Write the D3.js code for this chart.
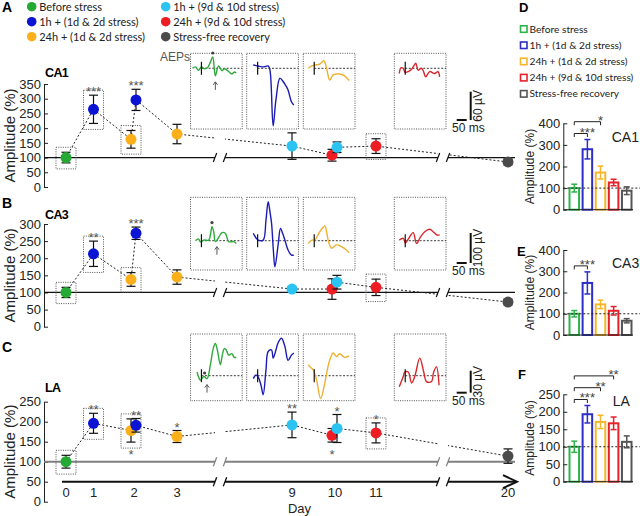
<!DOCTYPE html>
<html><head><meta charset="utf-8">
<script src="https://cdn.jsdelivr.net/npm/d3@7"></script>
<style>body{margin:0;background:#fff}svg{display:block}</style>
</head><body><svg id="c" width="640" height="516"></svg>
<script>
// ================= DATA =================
const groupKeys = ["pre","h1a","h24a","h1b","h24b","rec"];
const groupLabels = ["Before stress","1h + (1d & 2d stress)","24h + (1d & 2d stress)","1h + (9d & 10d stress)","24h + (9d & 10d stress)","Stress-free recovery"];
const pointColors = {pre:"#24a935",h1a:"#0a14d2",h24a:"#fbb01b",h1b:"#2bc4f2",h24b:"#ee1d23",rec:"#4b4b4b"};
const waveColors = {pre:"#2fa83c",h1a:"#1b1bb5",h24a:"#f0b030",h24b:"#d9262b"};
const barColors = {pre:"#2db34a",h1a:"#2d2dc8",h24a:"#f9b52a",h24b:"#e52129",rec:"#555555"};

const days = [0,1,2,3,9,10,11,20];
const dayLabels = ["0","1","2","3","9","10","11","20"];

// chronological sequence of measurements
const seqDays   = [0,1,2,2,3,9,10,10,11,20];
const seqGroups = ["pre","h1a","h24a","h1a","h24a","h1b","h24b","h1b","h24b","rec"];

const ca1Mean = [100,264,162,296,180,139,108,135,139,85];
const ca1Err  = [18,48,30,36,33,45,20,18,25,10];
const ca3Mean = [100,213,138,273,145,110,110,130,115,72];
const ca3Err  = [15,37,20,18,21,6,30,20,24,8];
const laMean  = [100,196,178,191,163,192,166,183,172,114];
const laErr   = [16,25,29,17,15,32,17,35,25,18];

const ca1Stars = [{i:1,t:"***",pos:"above"},{i:3,t:"***",pos:"above"}];
const ca3Stars = [{i:1,t:"**",pos:"above"},{i:3,t:"***",pos:"above"}];
const laStars  = [{i:1,t:"**",pos:"above"},{i:3,t:"**",pos:"above"},{i:2,t:"*",pos:"below"},
                  {i:4,t:"*",pos:"above"},{i:5,t:"**",pos:"above"},{i:7,t:"*",pos:"above"},
                  {i:6,t:"*",pos:"below"},{i:8,t:"*",pos:"above"}];
const ca1Boxed = [0,1,2,8];
const ca3Boxed = [0,1,2,8];
const laBoxed  = [0,1,2,8];

// AEP traces: [ms, µV]
const waveGroups = ["pre","h1a","h24a","h24b"];
const ca1Waves = {
 pre:[[10,0],[25,3],[40,-4],[55,3],[70,-1],[85,1],[100,13],[112,24],[125,-16],[141,5],[158,-5],[170,-1],[184,-4],[195,-8],[208,-12],[220,-8],[230,-10]],
 h1a:[[33,7],[57,5],[82,3],[108,5],[117,-4],[133,-122],[147,-67],[167,-21],[183,-28],[197,-37],[208,-46],[225,-71],[237,-78]],
 h24a:[[25,0],[43,5],[58,7],[83,9],[103,16],[113,7],[123,-12],[133,-25],[150,-14],[167,-12],[183,-12],[208,-16],[230,-26]],
 h24b:[[25,-11],[33,1],[45,0],[53,-8],[70,-7],[87,-2],[98,5],[108,11],[120,-4],[137,0],[148,-8],[158,-18],[178,-7],[203,-11],[220,-7],[228,-18]]
};
const ca3Waves = {
 pre:[[25,0],[40,6],[50,-4],[67,2],[92,2],[100,19],[108,47],[117,29],[125,-3],[140,9],[158,27],[175,25],[192,-3],[217,-3],[230,-9]],
 h1a:[[33,25],[47,9],[58,2],[83,2],[97,69],[108,130],[117,96],[125,58],[134,-31],[142,-87],[158,-14],[170,41],[182,22],[192,2],[208,-31],[225,-48],[237,-48]],
 h24a:[[25,-9],[43,2],[58,2],[83,30],[108,49],[118,26],[125,2],[142,-25],[167,-14],[192,-20],[217,-31],[230,-40]],
 h24b:[[25,2],[45,8],[56,-8],[70,5],[95,27],[112,-9],[132,13],[153,30],[178,38],[195,30],[215,19],[228,19]]
};
const laWaves = {
 pre:[[33,5],[50,-6],[67,-1],[83,-4],[100,15],[115,38],[125,44],[135,35],[150,15],[160,28],[170,37],[180,35],[192,28],[208,30],[220,25],[230,25]],
 h1a:[[33,-4],[47,1],[58,-2],[72,-13],[83,-26],[97,8],[108,33],[125,35],[133,24],[147,35],[158,45],[175,51],[192,40],[208,21],[225,28],[237,31]],
 h24a:[[25,15],[38,11],[50,8],[67,-6],[87,-31],[108,-10],[123,11],[133,21],[150,31],[167,26],[183,30],[208,25],[230,27]],
 h24b:[[25,-15],[45,-1],[53,5],[70,5],[87,-10],[103,-1],[128,24],[148,5],[162,-8],[187,-8],[198,5],[212,12],[225,-13]]
};
const stimMs = 55;

// bar charts
const barGroups = ["pre","h1a","h24a","h24b","rec"];
const barLegendLabels = ["Before stress","1h + (1d & 2d stress)","24h + (1d & 2d stress)","24h + (9d & 10d stress)","Stress-free recovery"];
const ca1Bar = [100,280,172,126,88];
const ca1BarErr = [18,45,30,15,18];
const ca3Bar = [100,245,144,114,67];
const ca3BarErr = [15,52,20,20,10];
const laBar = [100,193,171,167,114];
const laBarErr = [16,25,19,18,17];
const ca1Comp = [[0,1,"***"],[0,2,"*"]];
const ca3Comp = [[0,1,"***"]];
const laComp = [[0,1,"***"],[0,2,"**"],[0,3,"**"]];

// ================= DRAW =================
const svg = d3.select("#c");
const SANS = "'Liberation Sans', Arial, sans-serif";
const HUM = "Lato, 'Open Sans', sans-serif";

const dayScale = d3.scaleLinear().domain(days).range([66,93.5,134,177,292,335,376,508]);
const breaks = [[215,225],[438,448]];

// clip excluding breaks
const defs = svg.append("defs");
const cp = defs.append("clipPath").attr("id","brk");
[[0,215],[225,438],[448,640]].forEach(([a,b])=>cp.append("rect").attr("x",a).attr("y",0).attr("width",b-a).attr("height",516));

function xPos(i){
  const d = seqDays[i];
  const same = seqDays.filter(v=>v===d).length>1;
  let off = 0;
  if(same) off = seqGroups[i].startsWith("h24") ? -3 : 2;
  return dayScale(d)+off;
}

// ----- top legend -----
const leg = svg.append("g");
groupKeys.forEach((k,i)=>{
  const col = i<3?0:1, row = i%3;
  const cx = col===0?31.7:165.7, cy = 6.7+row*15;
  leg.append("circle").attr("cx",cx).attr("cy",cy).attr("r",4.8).attr("fill",pointColors[k]);
  leg.append("text").attr("x",cx+7.5).attr("y",cy+3.8).attr("font-family",HUM).attr("font-size",11)
     .attr("fill","#222").text(groupLabels[i]);
});

const panels = [
 {letter:"A",letterY:12,name:"CA1",nameY:77,mean:ca1Mean,err:ca1Err,stars:ca1Stars,boxed:ca1Boxed,waves:ca1Waves,
  yMax:350,y0:187,yTop:84,inTop:53.3,inBot:129,base:68.3,uv:60,uvPx:28.3,sbY:120,aep:true},
 {letter:"B",letterY:208,name:"CA3",nameY:219,mean:ca3Mean,err:ca3Err,stars:ca3Stars,boxed:ca3Boxed,waves:ca3Waves,
  yMax:300,y0:326.7,yTop:224,inTop:197.3,inBot:270,base:240.7,uv:100,uvPx:30,sbY:263},
 {letter:"C",letterY:352,name:"LA",nameY:392,mean:laMean,err:laErr,stars:laStars,boxed:laBoxed,waves:laWaves,
  yMax:250,y0:501.7,yTop:401.7,inTop:334,inBot:400.7,base:375.7,uv:30,uvPx:22,sbY:392.7,dayAxis:true}
];

const insetLefts = [190.5,246.7,303.3,394.3];
const insetW = 51.7;

panels.forEach(p=>{
  const g = svg.append("g");
  const y = d3.scaleLinear().domain([0,p.yMax]).range([p.y0,p.yTop]);
  g.append("text").attr("x",2).attr("y",p.letterY).attr("font-family",SANS).attr("font-weight","bold")
   .attr("font-size",14).text(p.letter);
  g.append("text").attr("x",45).attr("y",p.nameY).attr("font-family",SANS).attr("font-weight","bold")
   .attr("font-size",12.5).attr("letter-spacing",-0.6).text(p.name);
  // axis
  const ax = g.append("g").attr("transform","translate(44,0)")
    .call(d3.axisLeft(y).tickValues(d3.range(0,p.yMax+1,50)).tickSize(-4).tickSizeOuter(0).tickPadding(3));
  ax.selectAll("text").attr("font-size",13).attr("font-family",SANS).attr("fill","#222");
  ax.selectAll("line,path").attr("stroke","#222");
  g.append("text").attr("transform",`translate(15,${(p.y0+p.yTop)/2}) rotate(-90)`).attr("text-anchor","middle")
   .attr("font-family",SANS).attr("font-size",15).attr("fill","#222").text("Amplitude (%)");

  // 100% reference line
  const y100 = y(100);
  const lineCol = p.dayAxis ? "#808080" : "#111";
  const lineW = p.dayAxis ? 2 : 1.2;
  g.append("line").attr("x1",44).attr("x2",515).attr("y1",y100).attr("y2",y100)
   .attr("stroke",lineCol).attr("stroke-width",lineW).attr("clip-path","url(#brk)");
  function slashes(yy,col,w){
    breaks.flat().forEach(bx=>{
      g.append("line").attr("x1",bx-1.7).attr("x2",bx+1.7).attr("y1",yy+4.5).attr("y2",yy-4.5)
       .attr("stroke",col).attr("stroke-width",w);
    });
  }
  slashes(y100,lineCol,1.2);

  if(p.dayAxis){
    const ya = y(50);
    g.append("line").attr("x1",62).attr("x2",516).attr("y1",ya).attr("y2",ya)
     .attr("stroke","#111").attr("stroke-width",2).attr("clip-path","url(#brk)");
    slashes(ya,"#111",1.3);
    g.append("path").attr("d",`M503,${ya-6.5} L517,${ya} L503,${ya+6.5}`).attr("fill","none")
     .attr("stroke","#111").attr("stroke-width",2);
    days.forEach((d,i)=>{
      g.append("text").attr("x",dayScale(d)).attr("y",497).attr("text-anchor","middle")
       .attr("font-family",SANS).attr("font-size",13).attr("fill","#222").text(dayLabels[i]);
    });
    g.append("text").attr("x",299.5).attr("y",513).attr("text-anchor","middle")
     .attr("font-family",SANS).attr("font-size",13).attr("fill","#222").text("Day");
  }

  // connecting dotted line
  const idx = d3.range(p.mean.length);
  g.append("path").attr("d",d3.line().x(i=>xPos(i)).y(i=>y(p.mean[i]))(idx))
   .attr("fill","none").attr("stroke","#222").attr("stroke-width",1).attr("stroke-dasharray","2,2")
   .attr("clip-path","url(#brk)");

  // boxes around selected points
  p.boxed.forEach(i=>{
    const top = y(p.mean[i]+p.err[i])-5, bot = y(p.mean[i]-p.err[i])+6;
    g.append("rect").attr("x",xPos(i)-10).attr("y",top).attr("width",20).attr("height",bot-top)
     .attr("fill","none").attr("stroke","#555").attr("stroke-width",1).attr("stroke-dasharray","1,1.3");
  });

  // error bars and points
  idx.forEach(i=>{
    const x = xPos(i), t = y(p.mean[i]+p.err[i]), b = y(p.mean[i]-p.err[i]);
    g.append("line").attr("x1",x).attr("x2",x).attr("y1",t).attr("y2",b).attr("stroke","#111").attr("stroke-width",1.2);
    [t,b].forEach(yy=>g.append("line").attr("x1",x-4.5).attr("x2",x+4.5).attr("y1",yy).attr("y2",yy)
       .attr("stroke","#111").attr("stroke-width",1.2));
    g.append("circle").attr("cx",x).attr("cy",y(p.mean[i])).attr("r",5.5).attr("fill",pointColors[seqGroups[i]]);
  });

  // stars
  p.stars.forEach(s=>{
    const yy = s.pos==="above" ? y(p.mean[s.i]+p.err[s.i]) + 1 : y(p.mean[s.i]-p.err[s.i]) + 17;
    g.append("text").attr("x",xPos(s.i)).attr("y",yy).attr("text-anchor","middle")
     .attr("font-family",SANS).attr("font-size",13).attr("fill","#555").text(s.t);
  });

  // AEP insets
  if(p.aep){
    g.append("text").attr("x",160).attr("y",61).attr("font-family",SANS).attr("font-size",12)
     .attr("fill","#555").text("AEPs");
  }
  const ys = d3.scaleLinear().domain([0,p.uv]).range([p.base,p.base-p.uvPx]);
  waveGroups.forEach((k,j)=>{
    const left = insetLefts[j];
    const xs = d3.scaleLinear().domain([0,260]).range([left,left+insetW]);
    g.append("rect").attr("x",left).attr("y",p.inTop).attr("width",insetW).attr("height",p.inBot-p.inTop)
     .attr("fill","none").attr("stroke","#555").attr("stroke-width",1).attr("stroke-dasharray","1,1.3");
    g.append("line").attr("x1",xs(stimMs)).attr("x2",left+insetW).attr("y1",ys(0)).attr("y2",ys(0))
     .attr("stroke","#222").attr("stroke-width",0.9).attr("stroke-dasharray","2,1.6");
    g.append("path").attr("d",d3.line().x(d=>xs(d[0])).y(d=>ys(d[1])).curve(d3.curveCatmullRom.alpha(0.5))(p.waves[k]))
     .attr("fill","none").attr("stroke",waveColors[k]).attr("stroke-width",1.4);
    g.append("line").attr("x1",xs(stimMs)).attr("x2",xs(stimMs)).attr("y1",ys(0)-6.5).attr("y2",ys(0)+6.5)
     .attr("stroke","#111").attr("stroke-width",1.2);
  });
  // scale bar
  const xsb = d3.scaleLinear().domain([0,50]).range([456.7,466.7]);
  const ysb = d3.scaleLinear().domain([0,p.uv]).range([p.sbY,p.sbY-p.uvPx]);
  g.append("line").attr("x1",xsb(0)).attr("x2",xsb(50)).attr("y1",p.sbY).attr("y2",p.sbY).attr("stroke","#111").attr("stroke-width",2);
  g.append("line").attr("x1",470.7).attr("x2",470.7).attr("y1",ysb(0)).attr("y2",ysb(p.uv)).attr("stroke","#111").attr("stroke-width",2);
  g.append("text").attr("transform",`translate(482,${(ysb(0)+ysb(p.uv))/2}) rotate(-90)`).attr("text-anchor","middle")
   .attr("font-family",SANS).attr("font-size",12).attr("fill","#222").text(p.uv+" µV");
  g.append("text").attr("x",452).attr("y",p.sbY+12).attr("font-family",SANS).attr("font-size",12)
   .attr("fill","#222").text("50 ms");
});

// ----- green inset annotations (dot and arrow) -----
const annotMs = [[112,125],[108,133],[71,83]];
panels.forEach((p,pi)=>{
  const xs = d3.scaleLinear().domain([0,260]).range([insetLefts[0],insetLefts[0]+insetW]);
  const ys = d3.scaleLinear().domain([0,p.uv]).range([p.base,p.base-p.uvPx]);
  const interp = ms=>{const w=p.waves.pre; for(let k=1;k<w.length;k++){if(w[k][0]>=ms){const a=w[k-1],b=w[k];return a[1]+(b[1]-a[1])*(ms-a[0])/(b[0]-a[0]);}} return 0;};
  const [dms,ams] = annotMs[pi];
  svg.append("circle").attr("cx",xs(dms)).attr("cy",ys(interp(dms))-4).attr("r",1.6).attr("fill","#444");
  const ax = xs(ams), tip = Math.max(ys(interp(ams)),ys(0))+6;
  svg.append("path").attr("d",`M${ax},${tip+8} L${ax},${tip} M${ax-2.2},${tip+3} L${ax},${tip} L${ax+2.2},${tip+3}`)
   .attr("fill","none").attr("stroke","#555").attr("stroke-width",1);
});

// ----- bar panels D, E, F -----
const barLeg = svg.append("g");
barLeg.append("text").attr("x",519).attr("y",12).attr("font-family",SANS).attr("font-weight","bold").attr("font-size",13).text("D");
barGroups.forEach((k,i)=>{
  const cy = 29+i*16.2;
  barLeg.append("rect").attr("x",520.5).attr("y",cy-3.2).attr("width",6.5).attr("height",6.5)
   .attr("fill","#fff").attr("stroke",barColors[k]).attr("stroke-width",1.6);
  barLeg.append("text").attr("x",529.5).attr("y",cy+3.6).attr("font-family",HUM).attr("font-size",10.2)
   .attr("fill","#222").text(barLegendLabels[i]);
});

const barPanels = [
 {letter:null,name:"CA1",nameX:611.7,nameY:141.7,vals:ca1Bar,errs:ca1BarErr,comp:ca1Comp,yMax:400,step:100,y0:209.7,yTop:123.3},
 {letter:"E",letterX:517,letterY:256,name:"CA3",nameX:612,nameY:268.3,vals:ca3Bar,errs:ca3BarErr,comp:ca3Comp,yMax:400,step:100,y0:335,yTop:250},
 {letter:"F",letterX:518,letterY:379,name:"LA",nameX:612.7,nameY:406,vals:laBar,errs:laBarErr,comp:laComp,yMax:250,step:50,y0:481.7,yTop:394.3}
];
const xb = d3.scaleBand().domain(barGroups).range([568.5,632.5]).paddingInner(0.12);
barPanels.forEach(p=>{
  const g = svg.append("g");
  const y = d3.scaleLinear().domain([0,p.yMax]).range([p.y0,p.yTop]);
  if(p.letter) g.append("text").attr("x",p.letterX).attr("y",p.letterY).attr("font-family",SANS)
     .attr("font-weight","bold").attr("font-size",13).text(p.letter);
  const ax = g.append("g").attr("transform","translate(563.3,0)")
    .call(d3.axisLeft(y).tickValues(d3.range(0,p.yMax+1,p.step)).tickSize(-4).tickSizeOuter(0).tickPadding(3));
  ax.selectAll("text").attr("font-size",13).attr("font-family",SANS).attr("fill","#222");
  ax.selectAll("line,path").attr("stroke","#222");
  g.append("text").attr("transform",`translate(534,${(p.y0+p.yTop)/2}) rotate(-90)`).attr("text-anchor","middle")
   .attr("font-family",SANS).attr("font-size",12).attr("fill","#222").text("Amplitude (%)");
  g.append("text").attr("x",p.nameX).attr("y",p.nameY).attr("font-family",SANS).attr("font-size",14)
   .attr("fill","#222").text(p.name);
  // bars
  barGroups.forEach((k,i)=>{
    const x = xb(k), w = xb.bandwidth();
    g.append("rect").attr("x",x+1).attr("y",y(p.vals[i])).attr("width",w-2).attr("height",y(0)-y(p.vals[i]))
     .attr("fill","#fff").attr("stroke",barColors[k]).attr("stroke-width",2);
    const cx = x+w/2, t=y(p.vals[i]+p.errs[i]), b=y(p.vals[i]-p.errs[i]);
    g.append("line").attr("x1",cx).attr("x2",cx).attr("y1",t).attr("y2",b).attr("stroke",barColors[k]).attr("stroke-width",1.5);
    [t,b].forEach(yy=>g.append("line").attr("x1",cx-3).attr("x2",cx+3).attr("y1",yy).attr("y2",yy)
       .attr("stroke",barColors[k]).attr("stroke-width",1.5));
  });
  g.append("line").attr("x1",563.3).attr("x2",633).attr("y1",y(0)).attr("y2",y(0)).attr("stroke","#222").attr("stroke-width",1);
  g.append("line").attr("x1",563.3).attr("x2",640).attr("y1",y(100)).attr("y2",y(100))
   .attr("stroke","#222").attr("stroke-width",1).attr("stroke-dasharray","2,2");
  // comparisons
  p.comp.forEach((c,ci)=>{
    const [a,b,t] = c;
    const x1 = xb(barGroups[a])+xb.bandwidth()/2, x2 = xb(barGroups[b])+xb.bandwidth()/2;
    const yy = y(p.vals[1]+p.errs[1]) - 6 - ci*11.8;
    g.append("path").attr("d",`M${x1},${yy+3.5}V${yy}H${x2}V${yy+3.5}`).attr("fill","none")
     .attr("stroke","#222").attr("stroke-width",1);
    g.append("text").attr("x",x2).attr("y",yy+3).attr("text-anchor","middle").attr("font-family",SANS)
     .attr("font-size",13).attr("fill","#444").text(t);
  });
});
</script></body></html>
